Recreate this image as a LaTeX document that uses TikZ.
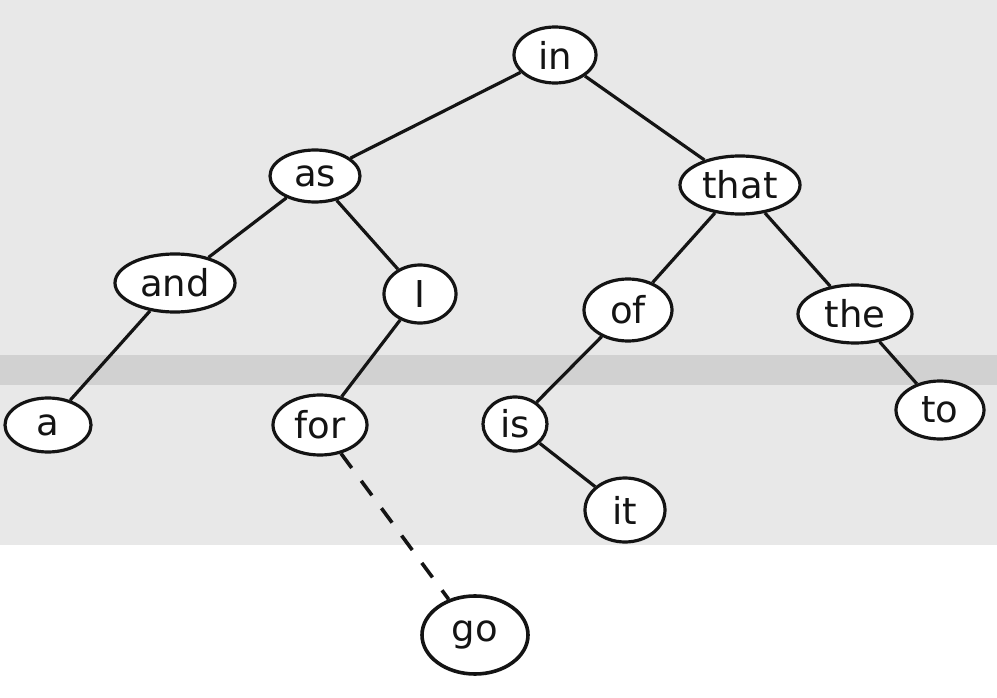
\documentclass[tikz,border=0pt]{standalone}
\usepackage{fontspec}
\setmainfont{DejaVu Sans}
\usetikzlibrary{shapes.geometric}
\definecolor{paper}{gray}{0.91}
\definecolor{band}{gray}{0.82}
\definecolor{ink}{gray}{0.08}
\tikzset{
  word/.style={ellipse, draw=ink, line width=3.2pt, fill=white, inner sep=0pt,
    font=\fontsize{37}{37}\selectfont, text=ink},
  link/.style={draw=ink, line width=3.2pt},
  dashlink/.style={draw=ink, line width=3.6pt, dash pattern=on 18pt off 16pt}
}
\begin{document}
\begin{tikzpicture}[x=1pt,y=-1pt]
\useasboundingbox (0,0) rectangle (997,698);
\fill[white] (0,0) rectangle (997,698);
\fill[paper] (0,0) rectangle (997,545);
\fill[band] (0,355) rectangle (997,385);
\node[word, minimum width=82, minimum height=56] (in) at (555,55) {in};
\node[word, minimum width=90, minimum height=52] (as) at (315,176) {as};
\node[word, minimum width=120, minimum height=58] (that) at (740,185) {that};
\node[word, minimum width=120, minimum height=58] (and) at (175,283) {and};
\node[word, minimum width=72, minimum height=58] (I) at (420,294) {I};
\node[word, minimum width=88, minimum height=62] (of) at (628,310) {of};
\node[word, minimum width=114, minimum height=58] (the) at (855,314) {the};
\node[word, minimum width=86, minimum height=54] (a) at (48,425) {a};
\node[word, minimum width=94, minimum height=60] (for) at (320,425) {for};
\node[word, minimum width=64, minimum height=54] (is) at (515,424) {is};
\node[word, minimum width=88, minimum height=58] (to) at (940,410) {to};
\node[word, minimum width=80, minimum height=64] (it) at (625,510) {it};
\node[word, minimum width=106, minimum height=78, line width=3.6pt] (go) at (475,635) {go};
\draw[link] (in) -- (as);
\draw[link] (in) -- (that);
\draw[link] (as) -- (and);
\draw[link] (as) -- (I);
\draw[link] (and) -- (a);
\draw[link] (I) -- (for);
\draw[link] (that) -- (of);
\draw[link] (that) -- (the);
\draw[link] (of) -- (is);
\draw[link] (is) -- (it);
\draw[link] (the) -- (to);
\draw[dashlink] (for) -- (go);
\end{tikzpicture}
\end{document}
